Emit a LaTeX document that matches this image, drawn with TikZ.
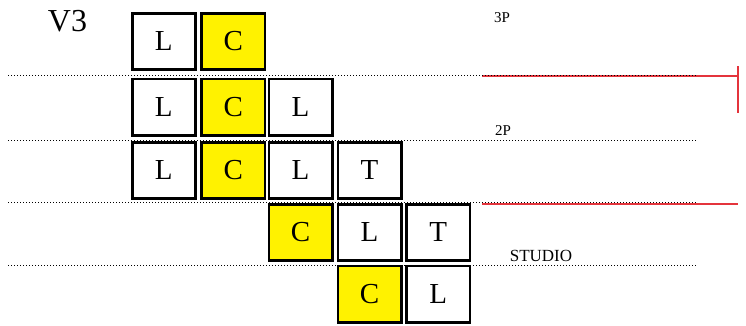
\documentclass[tikz,border=0pt]{standalone}
\usepackage{fontspec}
\setmainfont{Liberation Serif}
\definecolor{cellyellow}{RGB}{255,242,0}
\definecolor{floorred}{RGB}{228,52,60}
\tikzset{
	cell/.style={draw=black, line width=2.8pt, minimum width=63.2pt, minimum height=56.2pt, inner sep=0pt, text height=20pt, text depth=1pt, font=\fontsize{29}{29}\selectfont},
	cellc/.style={cell, fill=cellyellow},
	floor/.style={line width=0.9pt, dash pattern=on 0.9pt off 2.1pt},
	cut/.style={line width=1.6pt, color=floorred},
	tag/.style={inner sep=0pt}
}

\begin{document}
\begin{tikzpicture}[x=1pt,y=-1pt]
			%%%%% START %%%%%
			\useasboundingbox (0,0) rectangle (746,325);
			
			\node[tag, font=\fontsize{32}{32}\selectfont] (v3) at (67.5,21.5) {V3};
			
			\draw[cut] (482,76) -- (738,76);
			\draw[cut] (738,66) -- (738,113);
			\draw[cut] (482,204) -- (738,204);
			
			\draw[floor] (8,75.5) -- (697,75.5);
			\draw[floor] (8,140.5) -- (697,140.5);
			\draw[floor] (8,202.5) -- (697,202.5);
			\draw[floor] (8,265) -- (697,265);
			
			\node[tag, font=\fontsize{15}{15}\selectfont] (p3) at (502,18) {3P};
			\node[tag, font=\fontsize{15}{15}\selectfont] (p2) at (503,131) {2P};
			\node[tag, font=\fontsize{17}{17}\selectfont] (studio) at (541,256) {STUDIO};
			
			\node[cell] (l1) at (163.7,41.3) {L};
			\node[cellc] (c1) at (233.3,41.3) {C};
			
			\node[cell] (l2) at (163.7,107) {L};
			\node[cellc] (c2) at (233.3,107) {C};
			\node[cell] (m2) at (300.5,107) {L};
			
			\node[cell] (l3) at (163.7,170.3) {L};
			\node[cellc] (c3) at (233.3,170.3) {C};
			\node[cell] (m3) at (300.5,170.3) {L};
			\node[cell] (t3) at (369.5,170.3) {T};
			
			\node[cellc] (c4) at (300.5,232.2) {C};
			\node[cell] (m4) at (369.5,232.2) {L};
			\node[cell] (t4) at (438.3,232.2) {T};
			
			\node[cellc] (c5) at (369.5,294) {C};
			\node[cell] (m5) at (438.3,294) {L};
			
			%%%%% END %%%%%
\end{tikzpicture}
\end{document}
